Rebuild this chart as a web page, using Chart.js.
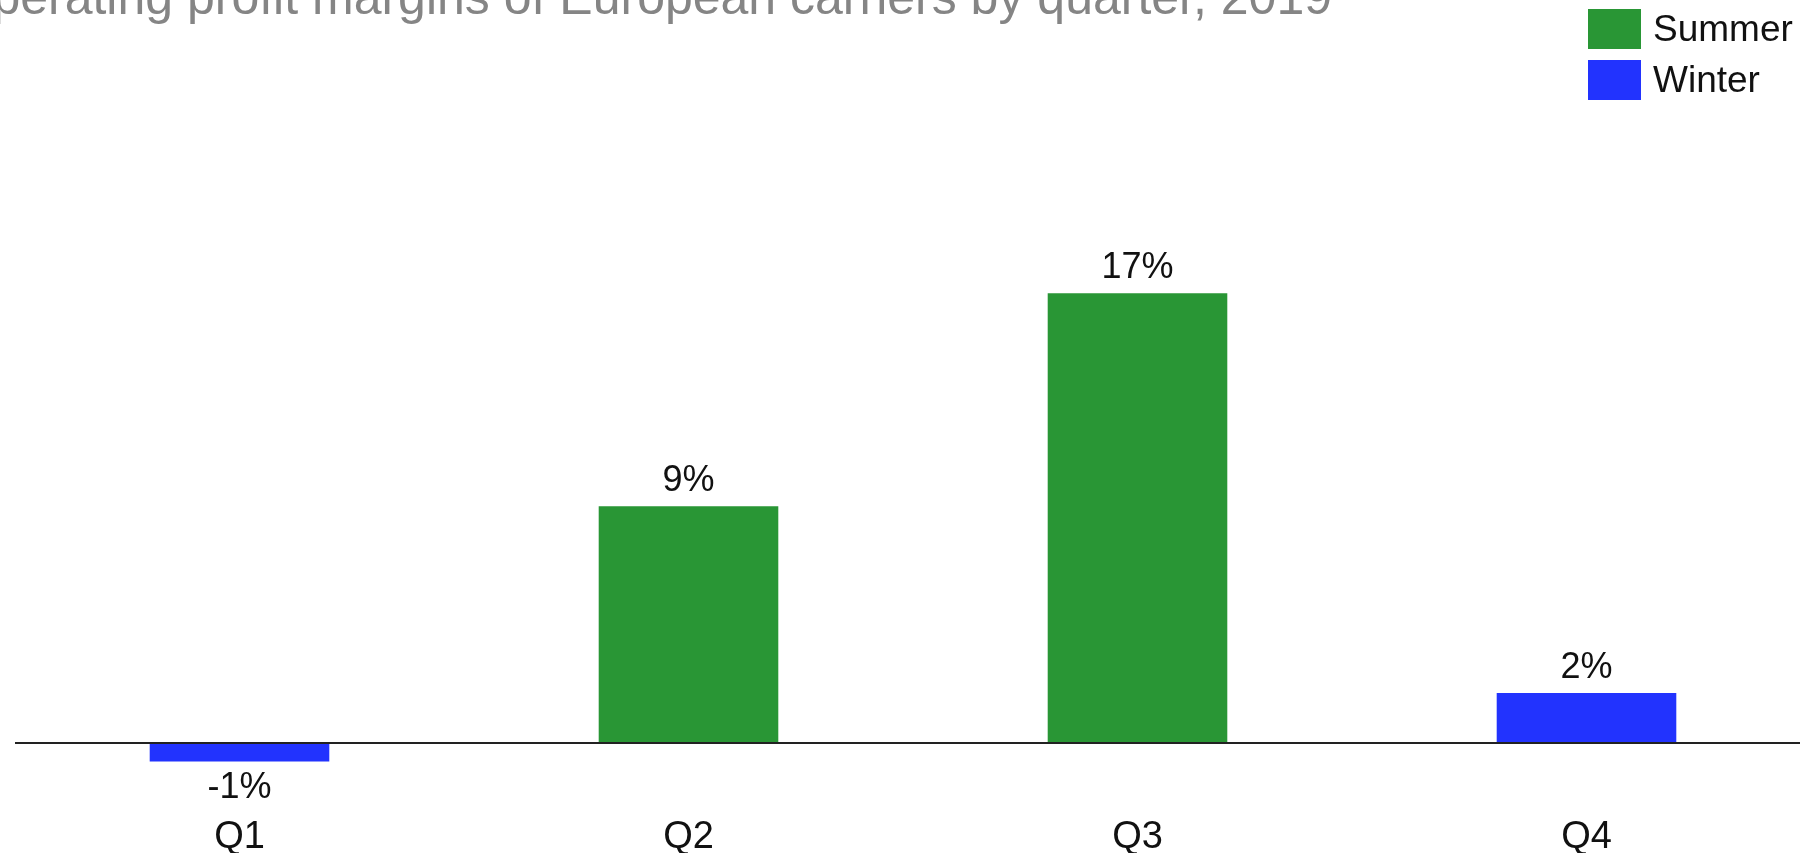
<!DOCTYPE html>
<html>
<head>
<meta charset="utf-8">
<title>Operating profit margins</title>
<script src="https://cdn.jsdelivr.net/npm/chart.js@4"></script>
<style>
  html, body { margin: 0; padding: 0; background: #fff; overflow: hidden; }
  body { width: 1800px; height: 853px; position: relative; font-family: "Liberation Sans", Arial, sans-serif; }
  #wrap { position: absolute; left: 0; top: 0; width: 1811px; height: 853px; }
  #legend { position: absolute; left: 1588px; top: 9px; }
  .item { display: flex; align-items: center; height: 40px; margin-bottom: 11px; }
  .swatch { width: 53px; height: 40px; margin-right: 12px; }
  .item span { font-size: 37px; color: #111; line-height: 40px; }
</style>
</head>
<body>
<div id="wrap"><canvas id="chart"></canvas></div>
<div id="legend"></div>
<script>
// Chart data
const quarters = ['Q1', 'Q2', 'Q3', 'Q4'];
const summerMargins = [null, 9.0, 17.1, null];
const winterMargins = [-0.7, null, null, 1.9];
const seriesNames = ['Summer', 'Winter'];
const titleText = 'Operating profit margins of European carriers by quarter, 2019';

const GREEN = '#299635';
const BLUE = '#2233fe';
const FONT = '"Liberation Sans", Arial, sans-serif';

// Title drawn partly above the canvas edge, like the original
const titlePlugin = {
  id: 'cutTitle',
  afterDraw(chart) {
    const ctx = chart.ctx;
    ctx.save();
    ctx.font = '50px ' + FONT;
    ctx.fillStyle = '#858585';
    ctx.textAlign = 'right';
    ctx.textBaseline = 'alphabetic';
    ctx.fillText(titleText, 1332, 14);
    ctx.restore();
  }
};

// Value labels above / below each bar
const valueLabels = {
  id: 'valueLabels',
  afterDatasetsDraw(chart) {
    const ctx = chart.ctx;
    ctx.save();
    ctx.font = '36px ' + FONT;
    ctx.fillStyle = '#111';
    ctx.textAlign = 'center';
    ctx.textBaseline = 'alphabetic';
    chart.data.datasets.forEach((ds, di) => {
      chart.getDatasetMeta(di).data.forEach((bar, i) => {
        const v = ds.data[i];
        if (v === null) return;
        const txt = Math.round(v) + '%';
        const y = v >= 0 ? bar.y - 15 : bar.y + 37;
        ctx.fillText(txt, bar.x, y);
      });
    });
    ctx.restore();
  }
};

const chart = new Chart(document.getElementById('chart').getContext('2d'), {
  type: 'bar',
  data: {
    labels: quarters,
    datasets: [
      { label: seriesNames[0], data: summerMargins, backgroundColor: GREEN },
      { label: seriesNames[1], data: winterMargins, backgroundColor: BLUE }
    ]
  },
  options: {
    responsive: true,
    maintainAspectRatio: false,
    animation: false,
    layout: { padding: { left: 15, right: 0, top: 0, bottom: 0 } },
    datasets: { bar: { categoryPercentage: 1, barPercentage: 0.4 } },
    plugins: {
      legend: { display: false },
      tooltip: { enabled: false }
    },
    scales: {
      x: {
        stacked: true,
        grid: { display: false, drawTicks: false },
        border: { display: false },
        ticks: { color: '#111', font: { family: FONT, size: 38 }, padding: 19.6 },
        afterFit: scale => { scale.height = 57.4; }
      },
      y: {
        stacked: true,
        min: -2,
        max: 28.25,
        border: { display: false },
        grid: {
          drawTicks: false,
          lineWidth: 2,
          color: ctx => ctx.tick && ctx.tick.value === 0 ? '#222' : 'transparent'
        },
        ticks: { display: false, stepSize: 1 }
      }
    }
  },
  plugins: [titlePlugin, valueLabels]
});

// HTML legend from the datasets
const legendEl = document.getElementById('legend');
chart.data.datasets.forEach(ds => {
  const row = document.createElement('div');
  row.className = 'item';
  const sw = document.createElement('div');
  sw.className = 'swatch';
  sw.style.background = ds.backgroundColor;
  const label = document.createElement('span');
  label.textContent = ds.label;
  row.appendChild(sw);
  row.appendChild(label);
  legendEl.appendChild(row);
});
</script>
</body>
</html>
